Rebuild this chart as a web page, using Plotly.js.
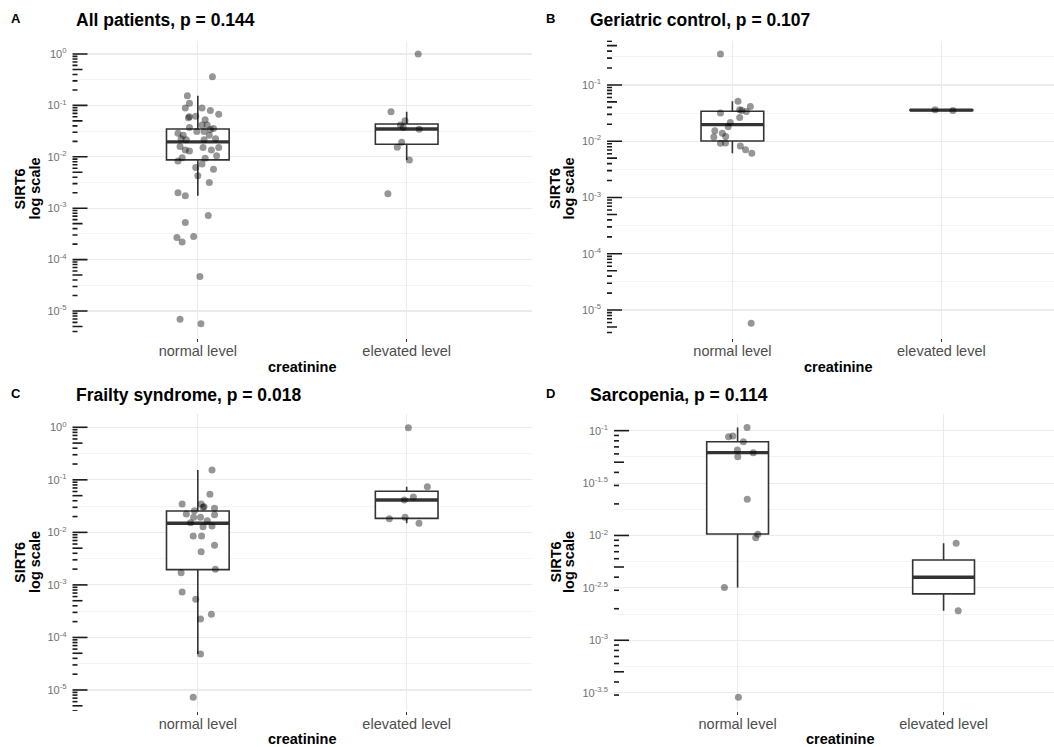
<!DOCTYPE html>
<html><head><meta charset="utf-8">
<script src="https://cdn.plot.ly/plotly-3.0.1.min.js"></script>
<style>html,body{margin:0;padding:0;background:#fff}#chart{width:1054px;height:747px}</style>
</head><body><div id="chart"></div>
<script>
// ---------- data ----------
const categories = ["normal level", "elevated level"];
const xAxisTitle = "creatinine";
const yAxisTitleLines = ["SIRT6", "log scale"];
const panelTags = ["A", "B", "C", "D"];
const panelTitles = ["All patients, p = 0.144", "Geriatric control, p = 0.107",
                     "Frailty syndrome, p = 0.018", "Sarcopenia, p = 0.114"];

// Panel A: All patients
const aNormal = [0.363,0.155,0.110,0.0891,0.0891,0.0794,0.0676,0.0603,0.0575,0.0617,0.0525,0.0372,0.0417,0.0417,
  0.0339,0.0355,0.0288,0.0309,0.0309,0.0263,0.0224,0.0263,0.0224,0.0214,0.0158,0.0129,0.0135,0.0214,0.0135,0.0151,
  0.0105,0.00832,0.00955,0.00933,0.00724,0.00617,0.00575,0.00427,0.00316,0.00200,0.00174,0.000724,0.000525,
  0.000269,0.000219,0.000282,0.0000468,0.00000692,0.00000562,0.0151];
const aNormalJitter = [0.07,-0.05,-0.04,-0.06,0.02,0.06,0.10,-0.04,-0.045,-0.01,0.035,-0.04,0.02,0.045,
  0.06,0.075,-0.095,-0.005,0.03,0.055,0.085,-0.07,-0.08,-0.055,-0.085,-0.04,-0.06,0.03,0.065,0.10,
  0.09,-0.095,-0.075,0.035,0.02,-0.01,0.075,0.0,0.055,-0.095,-0.06,0.05,-0.06,
  -0.10,-0.075,-0.02,0.01,-0.085,0.015,0.025];
const aElevated = [1.0,0.0755,0.0501,0.0417,0.0372,0.0343,0.0191,0.0153,0.0087,0.0019];
const aElevatedJitter = [0.055,-0.075,-0.008,-0.03,-0.016,0.06,-0.024,-0.045,0.013,-0.09];
// box stats [q1, median, q3, lower whisker, upper whisker]
const aNormalBox = [0.0087, 0.0195, 0.0347, 0.00174, 0.155];
const aElevatedBox = [0.0175, 0.0348, 0.0435, 0.0087, 0.0755];

// Panel B: Geriatric control
const bNormal = [0.356,0.0513,0.0412,0.0316,0.0363,0.0339,0.0351,0.0263,0.0216,0.0180,0.0153,0.0139,0.0119,0.0121,
  0.0092,0.00933,0.00826,0.00708,0.00612,0.00000585];
const bNormalJitter = [-0.057,0.027,0.086,-0.057,0.035,0.067,0.045,0.035,-0.01,-0.02,-0.084,-0.048,-0.089,-0.032,
  -0.057,-0.033,0.038,0.063,0.093,0.09];
const bElevated = [0.0363, 0.0350];
const bElevatedJitter = [-0.03, 0.055];
const bNormalBox = [0.0101, 0.0197, 0.0341, 0.00612, 0.0513];
const bElevatedBox = [0.0353, 0.0357, 0.0360, 0.0350, 0.0363];

// Panel C: Frailty syndrome
const cNormal = [0.154,0.053,0.0347,0.0347,0.0308,0.0302,0.0287,0.0259,0.0224,0.0217,0.0194,0.0194,0.0167,0.0153,
  0.0128,0.0132,0.00853,0.00853,0.00568,0.00429,0.00198,0.00171,0.000733,0.000532,0.000276,0.000224,0.0000484,0.00000726];
const cNormalJitter = [0.068,0.058,-0.075,0.016,0.03,0.025,0.08,-0.016,-0.055,0.08,-0.02,0.013,0.045,-0.035,
  0.025,0.068,-0.022,0.018,0.08,0.016,0.084,-0.08,-0.075,-0.01,0.065,0.013,0.013,-0.022];
const cElevated = [0.982,0.074,0.0471,0.0413,0.0182,0.0194,0.0149];
const cElevatedJitter = [0.008,0.099,0.032,-0.011,-0.083,-0.008,0.059];
const cNormalBox = [0.00195, 0.0149, 0.0255, 0.0000484, 0.154];
const cElevatedBox = [0.0185, 0.0413, 0.0605, 0.0149, 0.074];

// Panel D: Sarcopenia
const dNormal = [0.107,0.0877,0.0889,0.0785,0.0655,0.0617,0.0565,0.0221,0.01026,0.00953,0.00318,0.000286];
const dNormalJitter = [0.046,-0.044,-0.023,0.028,-0.001,0.076,0.001,0.047,0.098,0.088,-0.064,0.004];
const dElevated = [0.00843, 0.00191];
const dElevatedJitter = [0.061, 0.071];
const dNormalBox = [0.01033, 0.0617, 0.0785, 0.00318, 0.107];
const dElevatedBox = [0.00277, 0.00399, 0.00583, 0.00191, 0.00843];

// y-axis tick exponents
const decadeTicks = [0, -1, -2, -3, -4, -5];
const halfDecadeGrid = [-0.5, -1.5, -2.5, -3.5, -4.5, -5.5];
const sarcTicks = [-1, -1.5, -2, -2.5, -3, -3.5];
const sarcGrid = [-1.25, -1.75, -2.25, -2.75, -3.25];

// ---------- layout geometry (pixels) ----------
const W = 1054, H = 747;
const panels = [
  {ax:"", left:72.5, right:532, top:40.5, bottom:337.5, xr:[-0.6,1.6], yr:[-5.516,0.263],
   ticks:decadeTicks, grid:halfDecadeGrid, titleX:74, titleY:20, tagX:16, tagY:19, xTitleX:302, xTitleY:367, yT1:19.5, yT2:34.5,
   normal:aNormal, nj:aNormalJitter, elevated:aElevated, ej:aElevatedJitter, nb:aNormalBox, eb:aElevatedBox},
  {ax:"2", left:607, right:1054, top:40.5, bottom:337.5, xr:[-0.6,1.539], yr:[-5.488,-0.21],
   ticks:decadeTicks, grid:halfDecadeGrid, titleX:588, titleY:20, tagX:550, tagY:19, xTitleX:838, xTitleY:367, yT1:555, yT2:568.5,
   normal:bNormal, nj:bNormalJitter, elevated:bElevated, ej:bElevatedJitter, nb:bNormalBox, eb:bElevatedBox},
  {ax:"3", left:72.5, right:532, top:414, bottom:711, xr:[-0.6,1.6], yr:[-5.40,0.253],
   ticks:decadeTicks, grid:halfDecadeGrid, titleX:74, titleY:395, tagX:16, tagY:393, xTitleX:302, xTitleY:739, yT1:19.5, yT2:34.5,
   normal:cNormal, nj:cNormalJitter, elevated:cElevated, ej:cElevatedJitter, nb:cNormalBox, eb:cElevatedBox},
  {ax:"4", left:614, right:1054, top:414, bottom:711, xr:[-0.6,1.536], yr:[-3.675,-0.841],
   ticks:sarcTicks, grid:sarcGrid, titleX:588, titleY:395, tagX:550, tagY:393, xTitleX:840, xTitleY:739, yT1:555, yT2:568.5,
   normal:dNormal, nj:dNormalJitter, elevated:dElevated, ej:dElevatedJitter, nb:dNormalBox, eb:dElevatedBox}
];

const FONT = "Liberation Sans, Arial, sans-serif";
const BOXW = 0.3;
const traces = [];
const layout = {
  width: W, height: H, margin: {l:0, r:0, t:0, b:0},
  paper_bgcolor: "#ffffff", plot_bgcolor: "#ffffff",
  showlegend: false, hovermode: false,
  font: {family: FONT},
  annotations: [], shapes: []
};
const px = x => x / W, py = y => 1 - y / H;

panels.forEach((p, i) => {
  const xa = "x" + p.ax, ya = "y" + p.ax;
  layout["xaxis" + p.ax] = {
    domain: [px(p.left), px(p.right)], anchor: ya, range: p.xr,
    tickvals: [0, 1], ticktext: categories,
    tickfont: {size: 14.5, color: "#4d4d4d", family: FONT},
    ticks: "outside", ticklen: 3, tickcolor: "#333333", tickwidth: 1,
    ticklabelstandoff: -3,
    showgrid: true, gridcolor: "#ebebeb", gridwidth: 1.1,
    zeroline: false, showline: false, fixedrange: true
  };
  layout["yaxis" + p.ax] = {
    domain: [py(p.bottom), py(p.top)], anchor: xa, type: "log", range: p.yr,
    tickvals: p.ticks.map(e => Math.pow(10, e)),
    ticktext: p.ticks.map(e => "10<sup>" + e + "</sup>"),
    tickfont: {size: 11, color: "#707070", family: FONT},
    ticks: "", ticklabelstandoff: 5,
    showgrid: true, gridcolor: "#ebebeb", gridwidth: 1.1,
    minor: {tickvals: p.grid.map(e => Math.pow(10, e)), showgrid: true, gridcolor: "#f0f0f0", gridwidth: 0.7, ticks: ""},
    zeroline: false, showline: false, fixedrange: true
  };

  // boxes
  [[0, p.nb], [1, p.eb]].forEach(([cx, s]) => {
    traces.push({
      type: "box", xaxis: xa, yaxis: ya, orientation: "v",
      x: [cx], q1: [s[0]], median: [s[1]], q3: [s[2]], lowerfence: [s[3]], upperfence: [s[4]],
      width: BOXW, whiskerwidth: 0, boxpoints: false,
      fillcolor: "#ffffff", line: {color: "#333333", width: 1.6}
    });
    traces.push({
      type: "scatter", mode: "lines", xaxis: xa, yaxis: ya,
      x: [cx - BOXW / 2, cx + BOXW / 2], y: [s[1], s[1]],
      line: {color: "#333333", width: 3.4}
    });
  });

  // jittered points
  [[0, p.normal, p.nj], [1, p.elevated, p.ej]].forEach(([cx, vals, jit]) => {
    traces.push({
      type: "scatter", mode: "markers", xaxis: xa, yaxis: ya,
      x: vals.map((v, k) => cx + jit[k]), y: vals,
      marker: {size: 7, color: "rgba(0,0,0,0.41)", line: {width: 0}}
    });
  });

  // log tick marks (annotation_logticks style)
  const wpx = p.right - p.left;
  for (let d = Math.floor(p.yr[0]); d <= Math.ceil(p.yr[1]); d++) {
    for (let m = 1; m <= 9; m++) {
      const v = m * Math.pow(10, d), lv = Math.log10(v);
      if (lv < p.yr[0] || lv > p.yr[1]) continue;
      const len = m === 1 ? 15 : (m === 5 ? 10 : 5);
      layout.shapes.push({
        type: "line", xref: xa + " domain", yref: ya,
        x0: 0, x1: len / wpx, y0: v, y1: v,
        line: {color: "#1a1a1a", width: 1.6}
      });
    }
  }

  // text
  const ann = layout.annotations;
  ann.push({xref:"paper", yref:"paper", x:px(p.tagX), y:py(p.tagY), xanchor:"center", yanchor:"middle",
    text:"<b>" + panelTags[i] + "</b>", showarrow:false, font:{size:13, color:"#000", family:FONT}});
  ann.push({xref:"paper", yref:"paper", x:px(p.titleX), y:py(p.titleY), xanchor:"left", yanchor:"middle",
    text:"<b>" + panelTitles[i] + "</b>", showarrow:false, font:{size:17.5, color:"#000", family:FONT}});
  ann.push({xref:"paper", yref:"paper", x:px(p.xTitleX), y:py(p.xTitleY), xanchor:"center", yanchor:"middle",
    text:"<b>" + xAxisTitle + "</b>", showarrow:false, font:{size:14.5, color:"#000", family:FONT}});
  const yc = (p.top + p.bottom) / 2;
  [[p.yT1, yAxisTitleLines[0]], [p.yT2, yAxisTitleLines[1]]].forEach(([xx, t]) => {
    ann.push({xref:"paper", yref:"paper", x:px(xx), y:py(yc), xanchor:"center", yanchor:"middle", textangle:-90,
      text:"<b>" + t + "</b>", showarrow:false, font:{size:14.5, color:"#000", family:FONT}});
  });
});

Plotly.newPlot("chart", traces, layout, {displayModeBar: false, staticPlot: true});
</script>
</body></html>
